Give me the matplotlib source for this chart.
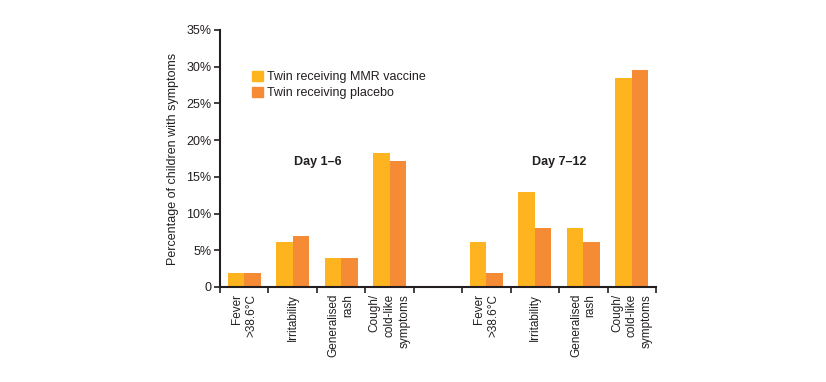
import numpy as np
import matplotlib
matplotlib.use("Agg")
import matplotlib.pyplot as plt
from matplotlib.patches import Patch

plt.rcParams['font.family'] = ['Liberation Sans', 'DejaVu Sans']

symptoms = ["Fever\n>38.6°C", "Irritability", "Generalised\nrash", "Cough/\ncold-like\nsymptoms"]
mmr_day1_6 = [1.9, 6.1, 3.9, 18.3]
placebo_day1_6 = [1.9, 6.9, 3.9, 17.1]
mmr_day7_12 = [6.1, 13.0, 8.0, 28.5]
placebo_day7_12 = [1.9, 8.0, 6.1, 29.5]
yticks = [0, 5, 10, 15, 20, 25, 30, 35]
ytick_labels = ["0", "5%", "10%", "15%", "20%", "25%", "30%", "35%"]

c_mmr = "#FDB41E"
c_plc = "#F68B35"
txt = "#231F20"

fig = plt.figure(figsize=(8.26, 3.82), dpi=100)
ax = fig.add_axes([0.2663, 0.2487, 0.5279, 0.6728])

# slot 4 is left empty between the two periods
pos = np.array([0, 1, 2, 3, 5, 6, 7, 8]) + 0.5
mmr = mmr_day1_6 + mmr_day7_12
plc = placebo_day1_6 + placebo_day7_12
w = 0.34
ax.bar(pos - w / 2, mmr, width=w, color=c_mmr, linewidth=0)
ax.bar(pos + w / 2, plc, width=w, color=c_plc, linewidth=0)

ax.set_xlim(0, 9)
ax.set_ylim(0, 35)
for s in ["top", "right"]:
    ax.spines[s].set_visible(False)
for s in ["left", "bottom"]:
    ax.spines[s].set_linewidth(1.5)
    ax.spines[s].set_color(txt)

ax.set_yticks(yticks)
ax.set_yticklabels(ytick_labels, fontsize=9, color=txt)
ax.tick_params(axis="y", direction="out", length=4, width=1.2, color=txt, pad=2)

ax.set_xticks(np.arange(0, 10), minor=True)
ax.set_xticks(pos)
ax.set_xticklabels(symptoms * 2, rotation=90, fontsize=8.5, color=txt,
                   va="top", ha="center", multialignment="right", linespacing=1.3)
ax.tick_params(axis="x", which="major", length=0, pad=5)
ax.tick_params(axis="x", which="minor", direction="out", length=4, width=1.2, color=txt)

ax.set_ylabel("Percentage of children with symptoms", fontsize=9, color=txt, labelpad=5)

ax.text(2.02, 17.0, "Day 1–6", fontsize=9, fontweight="bold", color=txt, ha="center", va="center")
ax.text(7.0, 17.0, "Day 7–12", fontsize=9, fontweight="bold", color=txt, ha="center", va="center")

handles = [Patch(color=c_mmr, label="Twin receiving MMR vaccine"),
           Patch(color=c_plc, label="Twin receiving placebo")]
ax.legend(handles=handles, loc="upper left", bbox_to_anchor=(0.062, 0.86), frameon=False,
          fontsize=9, handlelength=0.9, handleheight=0.9, handletextpad=0.3,
          labelspacing=0.25, borderaxespad=0, labelcolor=txt)

fig.savefig("out.png", dpi=100)
